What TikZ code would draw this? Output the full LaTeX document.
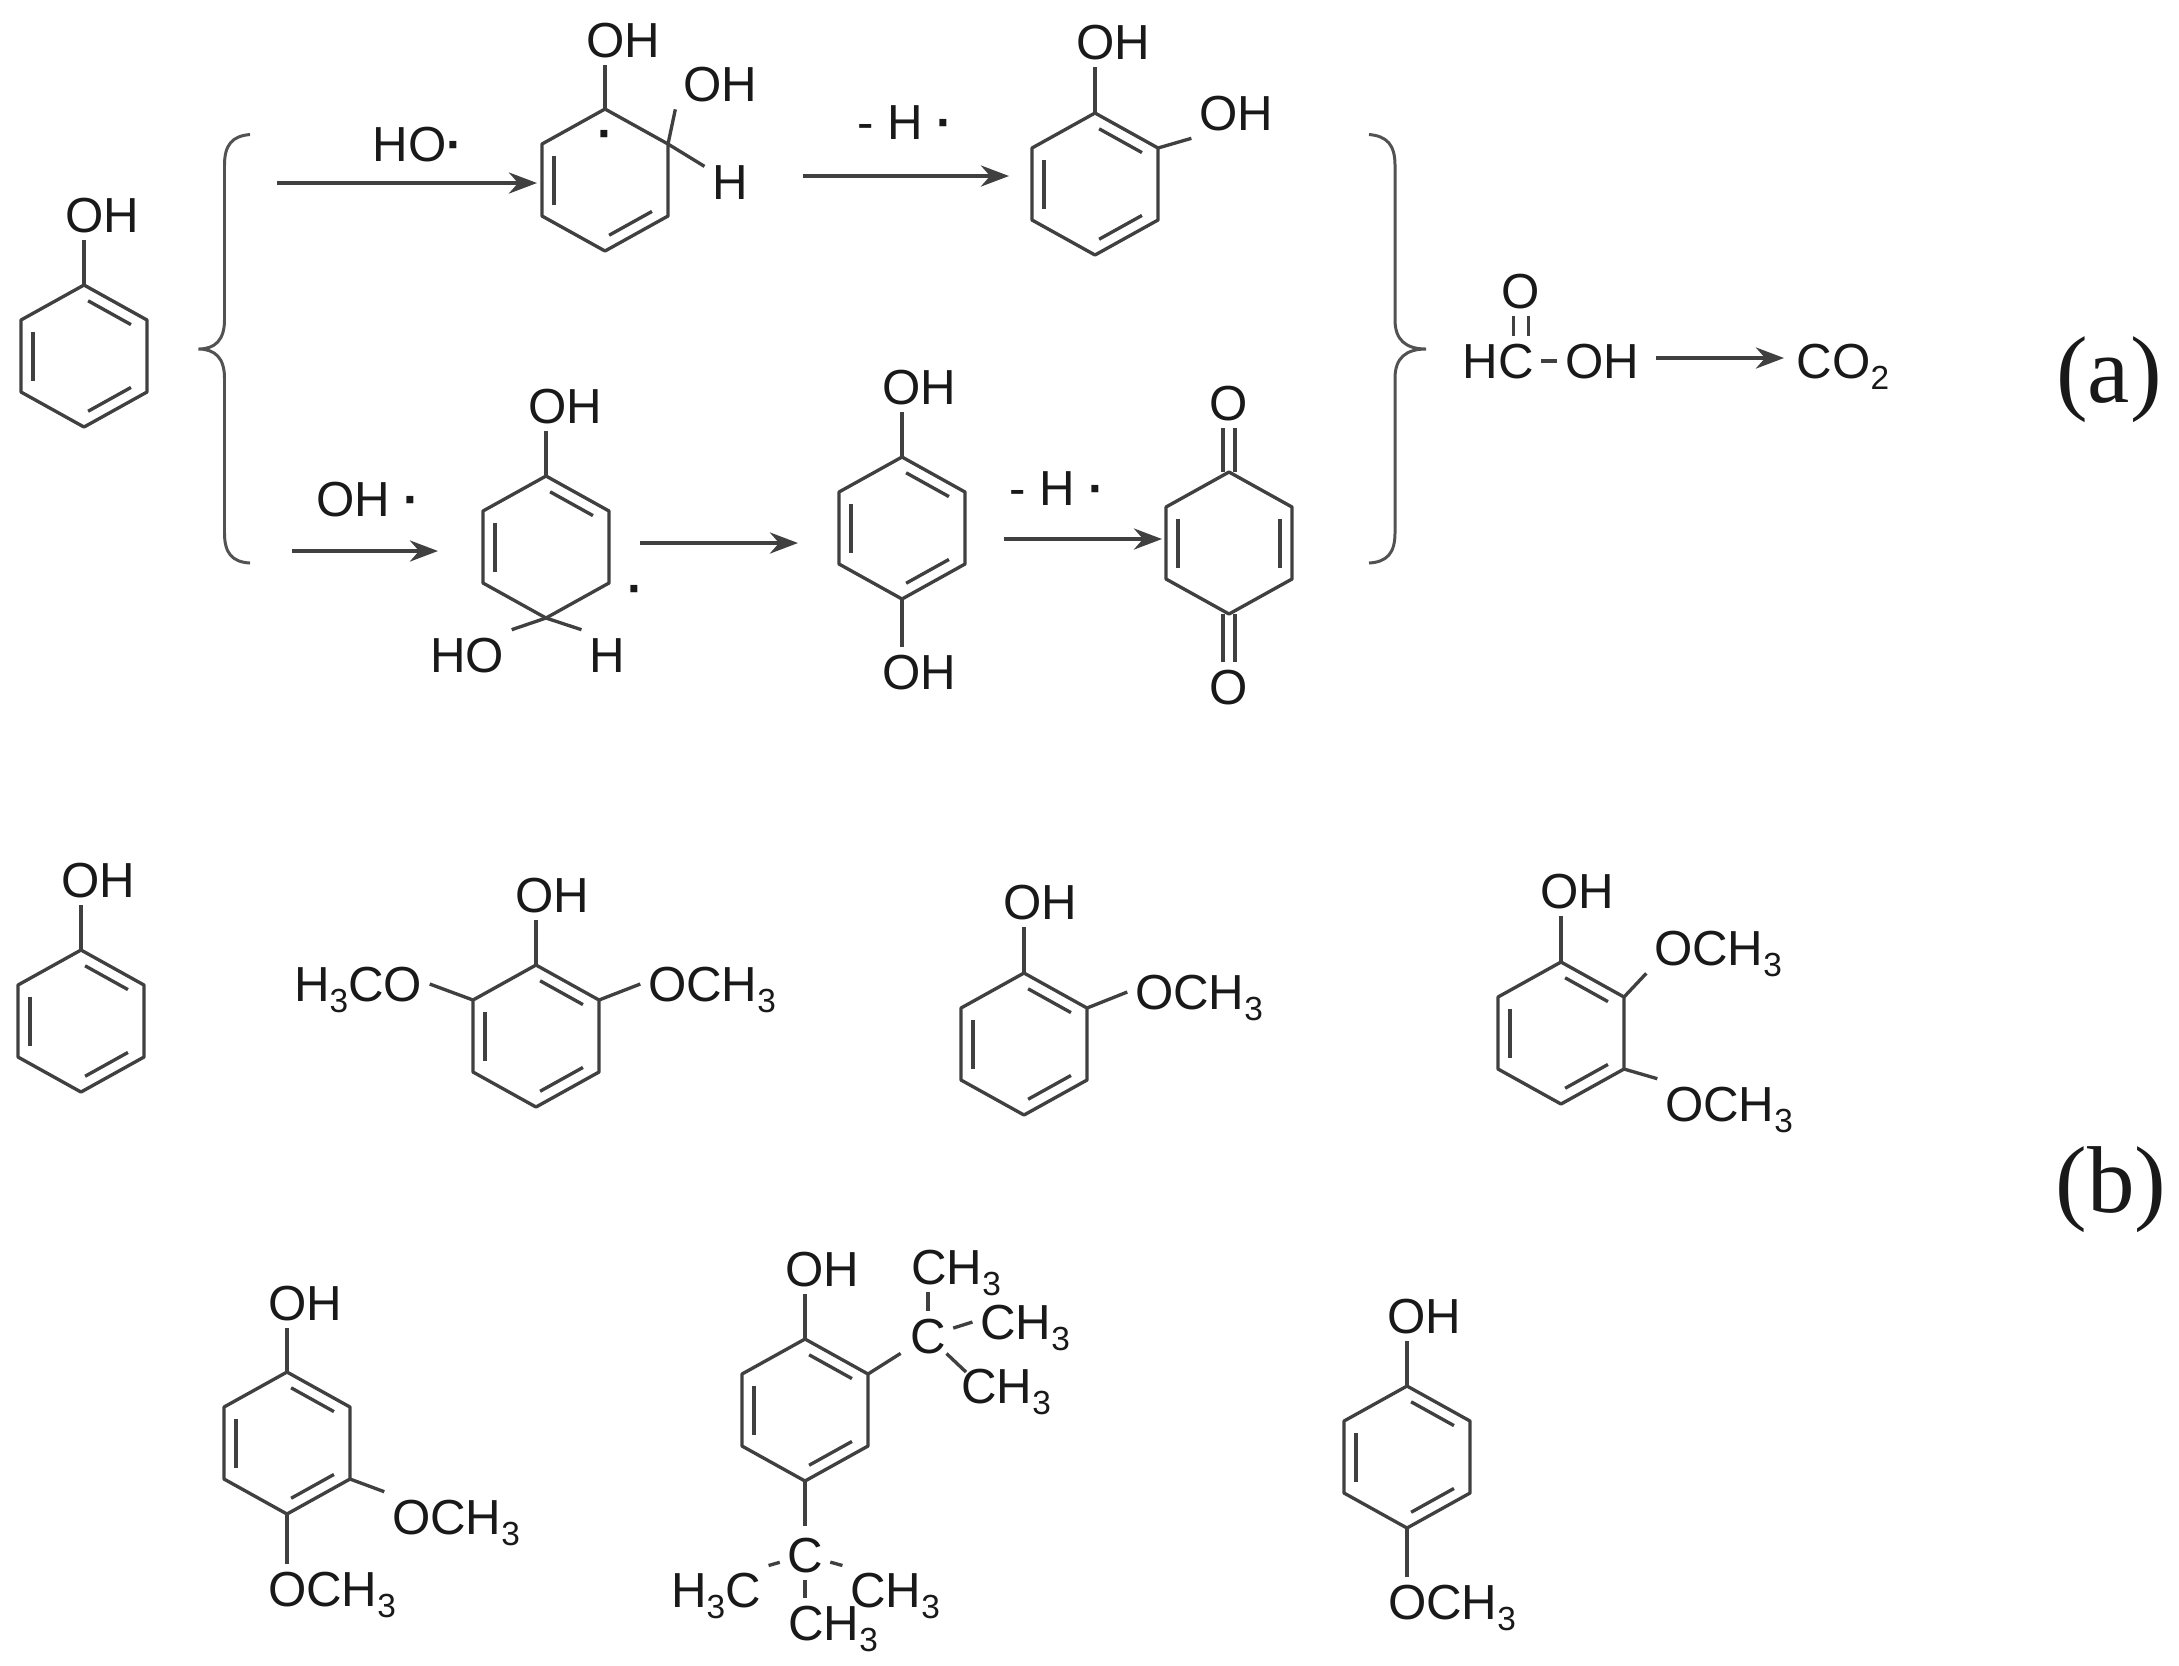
\documentclass[tikz,border=0pt]{standalone}
\usepackage{fontspec}
\setmainfont{Liberation Sans}
\newfontfamily\panelfont{Liberation Serif}
\usetikzlibrary{calc,arrows.meta}
\tikzset{
	bond/.style={line width=0.95pt, color=black!75, line join=round},
	rxn/.style={line width=1pt, color=black!75, -{Stealth[length=8pt,width=6pt]}},
	brace/.style={line width=0.85pt, color=black!68},
	atom/.style={font=\fontsize{14}{14}\selectfont, color=black!90, inner sep=2pt, text height=10pt, text depth=0pt},
	carbon/.style={atom, inner sep=0pt},
	panel/.style={font=\panelfont\fontsize{27}{27}\selectfont, color=black!90, inner sep=0pt}
}
\def\sbs#1{\raisebox{-3.2pt}{\fontsize{9.5}{10}\selectfont #1}}
\def\rad{\textbf{·}}
% ring at centre, then the sides that carry a second line
\def\hexring#1(#2,#3)#4{
	\coordinate (#1-c) at (#2,#3);
	\coordinate (#1-t) at (#2,#3-71);
	\coordinate (#1-ur) at (#2+63,#3-36);
	\coordinate (#1-lr) at (#2+63,#3+36);
	\coordinate (#1-b) at (#2,#3+71);
	\coordinate (#1-ll) at (#2-63,#3+36);
	\coordinate (#1-ul) at (#2-63,#3-36);
	\draw[bond] (#1-t) -- (#1-ur) -- (#1-lr) -- (#1-b) -- (#1-ll) -- (#1-ul) -- cycle;
	\foreach \p/\q in {#4} {
		\draw[bond] ($($(#1-\p)!.08!(#1-\q)$)!.19!(#1-c)$) -- ($($(#1-\q)!.08!(#1-\p)$)!.19!(#1-c)$);
	}
}
\begin{document}
\begin{tikzpicture}[x=0.01cm, y=-0.01cm]
	\useasboundingbox (0,0) rectangle (2179,1665);
	%%%%% PANEL A %%%%%

	\hexring{pa}(84,356){t/ur,ul/ll,lr/b}
	\node[atom] (paoh) at (102,215) {OH};
	\draw[bond] (pa-t) -- (pa-t |- paoh.south);

	\draw[brace] (250,134.5) .. controls (232,136) and (224.5,145) .. (224.5,165) -- (224.5,320) .. controls (224.5,340) and (215,349) .. (198.5,349) .. controls (215,349) and (224.5,358) .. (224.5,378) -- (224.5,533) .. controls (224.5,553) and (232,562) .. (250,563);
	\draw[brace] (1369,134.5) .. controls (1387,136) and (1395,145) .. (1395,165) -- (1395,320) .. controls (1395,340) and (1406,349) .. (1426,349) .. controls (1406,349) and (1395,358) .. (1395,378) -- (1395,533) .. controls (1395,553) and (1387,562) .. (1369,563);

	% upper row
	\coordinate (u1s) at (277,183);
	\coordinate (u1e) at (537,183);
	\draw[rxn] (u1s) -- (u1e);
	\node[atom] (uho) at (418,144) {HO\rad};

	\hexring{ra}(605,180){ul/ll,lr/b}
	\node[atom] (rarad) at (606,133) {\rad};
	\node[atom] (raoha) at (623,40) {OH};
	\node[atom] (raohb) at (720,84) {OH};
	\node[atom] (rah) at (730,182) {H};
	\draw[bond] (ra-t) -- (ra-t |- raoha.south);
	\draw[bond] (ra-ur) -- (raohb.south west);
	\draw[bond] (ra-ur) -- (rah);

	\coordinate (u2s) at (803,176);
	\coordinate (u2e) at (1009,176);
	\draw[rxn] (u2s) -- (u2e);
	\node[atom] (uh) at (905,122) {- H \rad};

	\hexring{ca}(1095,184){t/ur,ul/ll,lr/b}
	\node[atom] (caoha) at (1113,42) {OH};
	\node[atom] (caohb) at (1236,113) {OH};
	\draw[bond] (ca-t) -- (ca-t |- caoha.south);
	\draw[bond] (ca-ur) -- (caohb.south west);

	% lower row
	\coordinate (l1s) at (292,551);
	\coordinate (l1e) at (438,551);
	\draw[rxn] (l1s) -- (l1e);
	\node[atom] (loh) at (368,499) {OH \rad};

	\hexring{rb}(546,547){t/ur,ul/ll}
	\node[atom] (rbrad) at (636,588) {\rad};
	\node[atom] (rboh) at (565,406) {OH};
	\node[atom] (rbho) at (467,655) {HO};
	\node[atom] (rbh) at (607,655) {H};
	\draw[bond] (rb-t) -- (rb-t |- rboh.south);
	\draw[bond] (rb-b) -- (rbho.north east);
	\draw[bond] (rb-b) -- (rbh.north west);

	\coordinate (l2s) at (640,543);
	\coordinate (l2e) at (798,543);
	\draw[rxn] (l2s) -- (l2e);

	\hexring{hq}(902,528){t/ur,ul/ll,lr/b}
	\node[atom] (hqoha) at (919,387) {OH};
	\node[atom] (hqohb) at (919,672) {OH};
	\draw[bond] (hq-t) -- (hq-t |- hqoha.south);
	\draw[bond] (hq-b) -- (hq-b |- hqohb.north);

	\coordinate (l3s) at (1004,539);
	\coordinate (l3e) at (1162,539);
	\draw[rxn] (l3s) -- (l3e);
	\node[atom] (lh) at (1057,488) {- H \rad};

	\hexring{qu}(1229,543){ul/ll,ur/lr}
	\node[atom] (quoa) at (1229,403) {O};
	\node[atom] (quob) at (1229,687) {O};
	\draw[bond] ([xshift=-1.7pt]quoa.south) -- ([xshift=-1.7pt]qu-t);
	\draw[bond] ([xshift=1.7pt]quoa.south) -- ([xshift=1.7pt]qu-t);
	\draw[bond] ([xshift=-1.7pt]quob.north) -- ([xshift=-1.7pt]qu-b);
	\draw[bond] ([xshift=1.7pt]quob.north) -- ([xshift=1.7pt]qu-b);

	% acid and end product
	\node[atom] (hc) at (1498,361) {HC};
	\node[atom] (acoh) at (1602,361) {OH};
	\node[atom] (aco) at (1521,291) {O};
	\draw[bond] (hc) -- (acoh);
	\draw[bond] ([xshift=-2.2pt]aco.south) -- ([xshift=-2.2pt]aco.south |- hc.north);
	\draw[bond] ([xshift=2.2pt]aco.south) -- ([xshift=2.2pt]aco.south |- hc.north);

	\coordinate (a1s) at (1656,358);
	\coordinate (a1e) at (1784,358);
	\draw[rxn] (a1s) -- (a1e);
	\node[atom] (cotwo) at (1843,361) {CO\sbs{2}};

	\node[panel] (labela) at (2109,380) {(a)};

	%%%%% PANEL B %%%%%

	\hexring{pb}(81,1021){t/ur,ul/ll,lr/b}
	\node[atom] (pboh) at (98,880) {OH};
	\draw[bond] (pb-t) -- (pb-t |- pboh.south);

	\hexring{sy}(536,1036){t/ur,ul/ll,lr/b}
	\node[atom] (syoh) at (552,895) {OH};
	\node[atom] (syma) at (358,984) {H\sbs{3}CO};
	\node[atom] (symb) at (712,984) {OCH\sbs{3}};
	\draw[bond] (sy-t) -- (sy-t |- syoh.south);
	\draw[bond] (sy-ul) -- (syma.east);
	\draw[bond] (sy-ur) -- (symb.west);

	\hexring{gu}(1024,1044){t/ur,ul/ll,lr/b}
	\node[atom] (guoh) at (1040,902) {OH};
	\node[atom] (gume) at (1199,992) {OCH\sbs{3}};
	\draw[bond] (gu-t) -- (gu-t |- guoh.south);
	\draw[bond] (gu-ur) -- (gume.west);

	\hexring{tm}(1561,1033){t/ur,ul/ll,lr/b}
	\node[atom] (tmoh) at (1577,891) {OH};
	\node[atom] (tmma) at (1718,948) {OCH\sbs{3}};
	\node[atom] (tmmb) at (1729,1104) {OCH\sbs{3}};
	\draw[bond] (tm-t) -- (tm-t |- tmoh.south);
	\draw[bond] (tm-ur) -- (tmma.south west);
	\draw[bond] (tm-lr) -- (tmmb.north west);

	\node[panel] (labelb) at (2111,1190) {(b)};

	\hexring{dm}(287,1443){t/ur,ul/ll,lr/b}
	\node[atom] (dmoh) at (305,1303) {OH};
	\node[atom] (dmma) at (456,1517) {OCH\sbs{3}};
	\node[atom] (dmmb) at (332,1589) {OCH\sbs{3}};
	\draw[bond] (dm-t) -- (dm-t |- dmoh.south);
	\draw[bond] (dm-lr) -- (dmma.north west);
	\draw[bond] (dm-b) -- (dm-b |- dmmb.north);

	\hexring{tb}(805,1410){t/ur,ul/ll,lr/b}
	\node[atom] (tboh) at (822,1269) {OH};
	\node[carbon] (tbca) at (928,1336) {C};
	\node[atom] (tbma) at (956,1267) {CH\sbs{3}};
	\node[atom] (tbmb) at (1025,1322) {CH\sbs{3}};
	\node[atom] (tbmc) at (1006,1386) {CH\sbs{3}};
	\coordinate (tbmcend) at (966,1372);
	\node[carbon] (tbcb) at (805,1555) {C};
	\node[atom] (tbmd) at (716,1590) {H\sbs{3}C};
	\node[atom] (tbme) at (895,1590) {CH\sbs{3}};
	\node[atom] (tbmf) at (833,1623) {CH\sbs{3}};
	\draw[bond] (tb-t) -- (tb-t |- tboh.south);
	\draw[bond, shorten >=3pt] (tb-ur) -- (tbca);
	\draw[bond, shorten <=2pt] (tbca) -- (tbca |- tbma.south);
	\draw[bond, shorten <=2pt] (tbca) -- (tbmb.west);
	\draw[bond] (tbca) -- (tbmcend);
	\draw[bond, shorten >=3pt] (tb-b) -- (tbcb);
	\draw[bond, shorten <=2pt] (tbcb) -- (tbmd.25);
	\draw[bond, shorten <=2pt] (tbcb) -- (tbme.155);
	\draw[bond, shorten <=2pt] (tbcb) -- (tbcb |- tbmf.north);

	\hexring{me}(1407,1457){t/ur,ul/ll,lr/b}
	\node[atom] (meoh) at (1424,1316) {OH};
	\node[atom] (meme) at (1452,1602) {OCH\sbs{3}};
	\draw[bond] (me-t) -- (me-t |- meoh.south);
	\draw[bond] (me-b) -- (me-b |- meme.north);

	%%%%% END %%%%%
\end{tikzpicture}
\end{document}
